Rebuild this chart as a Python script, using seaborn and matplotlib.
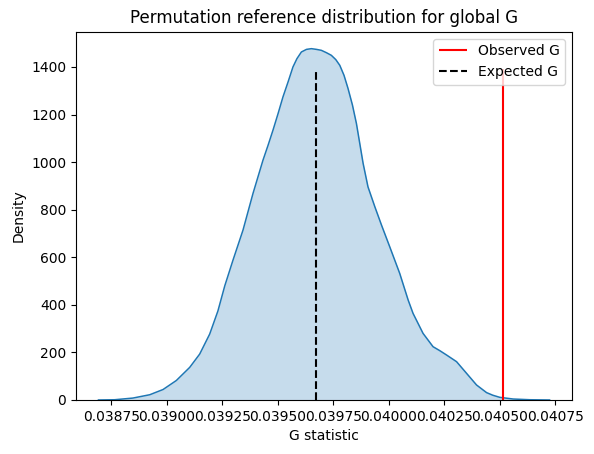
import pandas as pd
import seaborn as sns
from matplotlib import pyplot as plt

# density curve of the permutation distribution
g_values = [0.038692, 0.038765, 0.038847, 0.038923, 0.038983, 0.039043, 0.039103,
            0.039148, 0.039193, 0.039230, 0.039261, 0.039298, 0.039343, 0.039388,
            0.039433, 0.039456, 0.039478, 0.039501, 0.039523, 0.039546, 0.039568,
            0.039586, 0.039606, 0.039629, 0.039651, 0.039674, 0.039696, 0.039719,
            0.039741, 0.039761, 0.039779, 0.039798, 0.039816, 0.039836, 0.039854,
            0.039884, 0.039906, 0.039937, 0.039967, 0.040004, 0.040049, 0.040087,
            0.040109, 0.040154, 0.040199, 0.040230, 0.040260, 0.040305, 0.040350,
            0.040395, 0.040440, 0.040468, 0.040500, 0.040560, 0.040635, 0.040724]
density = [0, 1, 8, 22, 44, 82, 137,
           193, 277, 374, 480, 588, 714, 868,
           1008, 1071, 1134, 1204, 1274, 1337, 1400,
           1435, 1463, 1474, 1477, 1474, 1470, 1460,
           1449, 1431, 1407, 1365, 1310, 1240, 1162,
           995, 896, 812, 735, 644, 532, 420,
           364, 280, 224, 207, 189, 161, 112,
           63, 31, 20, 11, 4, 1, 0]

observed_g = 0.040513
expected_g = 0.039671
line_top = 1393

df = pd.DataFrame({"G statistic": g_values, "Density": density})

fig = plt.figure(figsize=(5.94, 4.54), dpi=100)
ax = fig.add_subplot(111)
fig.subplots_adjust(left=0.128, right=0.963, bottom=0.119, top=0.930)

# curve plus shaded area, like a filled kde
sns.lineplot(data=df, x="G statistic", y="Density", color="C0", linewidth=1.1, ax=ax)
ax.fill_between(df["G statistic"], df["Density"], color="C0", alpha=0.25, linewidth=0)

ax.vlines(observed_g, 0, line_top, color="red", label="Observed G")
ax.vlines(expected_g, 0, line_top, color="black", linestyles="--", label="Expected G")

ax.set_xlim(0.038591, 0.040825)
ax.set_ylim(0, 1548)
ax.set_xticks([0.03875, 0.039, 0.03925, 0.0395, 0.03975, 0.04, 0.04025, 0.0405, 0.04075])
ax.set_xticklabels(["0.03875", "0.03900", "0.03925", "0.03950", "0.03975",
                    "0.04000", "0.04025", "0.04050", "0.04075"])

ax.set_title("Permutation reference distribution for global G")
ax.set_xlabel("G statistic")
ax.set_ylabel("Density")
ax.legend(loc="upper right")

fig.savefig("out.png", dpi=100)
